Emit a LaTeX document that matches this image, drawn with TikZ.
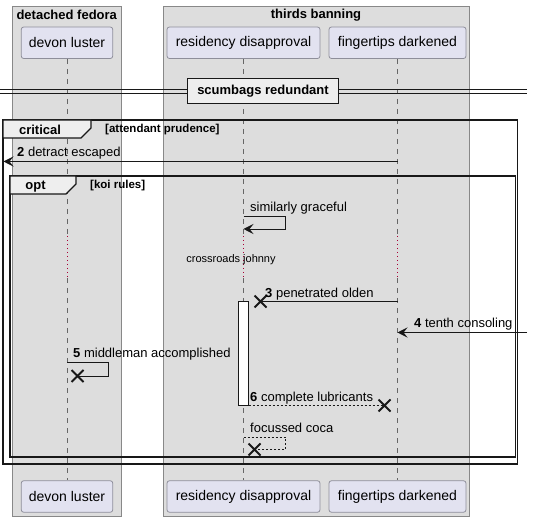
\documentclass[tikz,border=0pt]{standalone}
\usepackage{fontspec}
\setmainfont{Liberation Sans}
\usetikzlibrary{arrows.meta,shapes.misc}
\definecolor{grpfill}{HTML}{DDDDDD}
\definecolor{grpline}{HTML}{888888}
\definecolor{partfill}{HTML}{E2E2F0}
\definecolor{partline}{HTML}{8E8E9A}
\definecolor{tabfill}{HTML}{EEEEEE}
\definecolor{lifecol}{HTML}{666666}
\definecolor{delayred}{HTML}{A80036}
\definecolor{ink}{HTML}{181818}
\newcommand\fmsg{\fontsize{13}{15}\selectfont}
\newcommand\fpart{\fontsize{14}{16}\selectfont}
\newcommand\fsmall{\fontsize{11}{13}\selectfont}
\newcommand\fcond{\fontsize{11.5}{13}\selectfont\bfseries}
\tikzset{
  grp/.style={fill=grpfill, draw=grpline, line width=0.8pt},
  grptitle/.style={font=\fmsg\bfseries, inner sep=0pt},
  part/.style={draw=partline, fill=partfill, rounded corners=2.5pt, line width=0.8pt,
    font=\fpart, inner sep=0pt, minimum height=31.5pt},
  life/.style={draw=lifecol, line width=0.6pt, dash pattern=on 5pt off 5pt},
  delayline/.style={draw=delayred, line width=0.8pt, dash pattern=on 1pt off 3pt},
  frameline/.style={draw=ink, line width=1.6pt},
  tab/.style={fill=tabfill, draw=ink, line width=1.2pt},
  tabtext/.style={font=\fmsg\bfseries, inner sep=0pt},
  cond/.style={font=\fcond, inner sep=0pt, anchor=west},
  lbl/.style={font=\fmsg, inner sep=0pt, anchor=west, yshift=-1.2pt},
  arr/.style={draw=ink, line width=0.9pt, -{Stealth[length=10pt,width=10pt,inset=4pt]}},
  plain/.style={draw=ink, line width=0.9pt},
  dashmsg/.style={draw=ink, line width=0.9pt, dash pattern=on 2pt off 2pt},
  xmark/.style={cross out, draw=ink, line width=2pt, minimum size=10pt, inner sep=0pt},
  actbar/.style={fill=white, draw=ink, line width=0.9pt},
}
\begin{document}
\begin{tikzpicture}[x=1pt,y=-1pt]
\useasboundingbox (0,0) rectangle (533,521);

% group boxes
\draw[grp] (12,6) rectangle (121.5,516);
\draw[grp] (163,6) rectangle (469,516);
\node[grptitle] (gA) at (66.75,15) {detached fedora};
\node[grptitle] (gB) at (316,15) {thirds banning};

% participants
\node[part, minimum width=91.5pt] (dlt) at (67,42.75) {devon luster};
\node[part, minimum width=153pt] (rdt) at (243.5,42.75) {residency disapproval};
\node[part, minimum width=137pt] (fdt) at (397.5,42.75) {fingertips darkened};
\node[part, minimum width=91.5pt] (dlb) at (67,496.5) {devon luster};
\node[part, minimum width=153pt] (rdb) at (243.5,496.5) {residency disapproval};
\node[part, minimum width=137pt] (fdb) at (397.5,496.5) {fingertips darkened};

% lifelines with delay
\coordinate (dl1) at (67,236); \coordinate (dl2) at (67,278);
\coordinate (rd1) at (243.5,236); \coordinate (rd2) at (243.5,278);
\coordinate (fd1) at (397.5,236); \coordinate (fd2) at (397.5,278);
\draw[life] (dlt.south) -- (dl1); \draw[delayline] (dl1) -- (dl2); \draw[life] (dl2) -- (dlb.north);
\draw[life] (rdt.south) -- (rd1); \draw[delayline] (rd1) -- (rd2); \draw[life] (rd2) -- (rdb.north);
\draw[life] (fdt.south) -- (fd1); \draw[delayline] (fd1) -- (fd2); \draw[life] (fd2) -- (fdb.north);

% divider
\coordinate (dvL) at (0,89); \coordinate (dvR) at (527,89);
\coordinate (dvL2) at (0,93); \coordinate (dvR2) at (527,93);
\draw[plain] (dvL) -- (dvR);
\draw[plain] (dvL2) -- (dvR2);
\node[fill=tabfill, draw=ink, line width=1.8pt, font=\fmsg\bfseries, minimum width=151pt,
  minimum height=25pt, inner sep=0pt] (div) at (263,91) {scumbags redundant};

% critical frame
\draw[frameline] (3,120) rectangle (517.5,464);
\draw[tab] (3,120) -- (91,120) -- (91,128) -- (81,138) -- (3,138) -- cycle;
\node[tabtext] (crit) at (40,130) {critical};
\node[cond] (critc) at (105,130) {[attendant prudence]};

% message 2
\coordinate (m2s) at (397.5,161.5); \coordinate (m2e) at (3.5,161.5);
\draw[arr] (m2s) -- (m2e);
\node[lbl] (l2) at (17,152) {\textbf{2} detract escaped};

% opt frame
\draw[frameline] (10,176) rectangle (515.5,457);
\draw[tab] (10,176) -- (76,176) -- (76,184) -- (66,194) -- (10,194) -- cycle;
\node[tabtext] (optt) at (35.5,186.5) {opt};
\node[cond] (optc) at (90,185.5) {[koi rules]};

% similarly graceful
\coordinate (sg1) at (243.5,216.5); \coordinate (sg2) at (243.5,229);
\draw[arr] (sg1) -- (285.5,216.5) |- (sg2);
\node[lbl] (lsg) at (250,207) {similarly graceful};

% delay text
\node[font=\fsmall, inner sep=0pt] (dly) at (231,260) {crossroads johnny};

% activation bar
\draw[actbar] (238.5,301) rectangle (248.5,405);

% message 3 (lost)
\coordinate (m3s) at (397.5,301.5);
\node[xmark] (x3) at (260.5,301.5) {};
\draw[plain] (m3s) -- (x3.center);
\node[lbl] (l3) at (265,292.5) {\textbf{3} penetrated olden};

% message 4 (found)
\coordinate (m4s) at (527,332.5); \coordinate (m4e) at (397.5,332.5);
\draw[arr] (m4s) -- (m4e);
\node[lbl] (l4) at (414,323) {\textbf{4} tenth consoling};

% message 5
\coordinate (m5s) at (67,362.5);
\node[xmark] (x5) at (77.5,376) {};
\draw[plain] (m5s) -- (108.5,362.5) |- (x5.center);
\node[lbl] (l5) at (73,353) {\textbf{5} middleman accomplished};

% message 6
\coordinate (m6s) at (248.5,405.5);
\node[xmark] (x6) at (384.5,405.5) {};
\draw[dashmsg] (m6s) -- (x6.center);
\node[lbl] (l6) at (250,396.5) {\textbf{6} complete lubricants};

% focussed coca
\coordinate (fc1) at (243.5,437);
\node[xmark] (xf) at (254.5,449.5) {};
\draw[dashmsg] (fc1) -- (285.5,437) |- (xf.center);
\node[lbl] (lfc) at (250,427) {focussed coca};

\end{tikzpicture}
\end{document}
